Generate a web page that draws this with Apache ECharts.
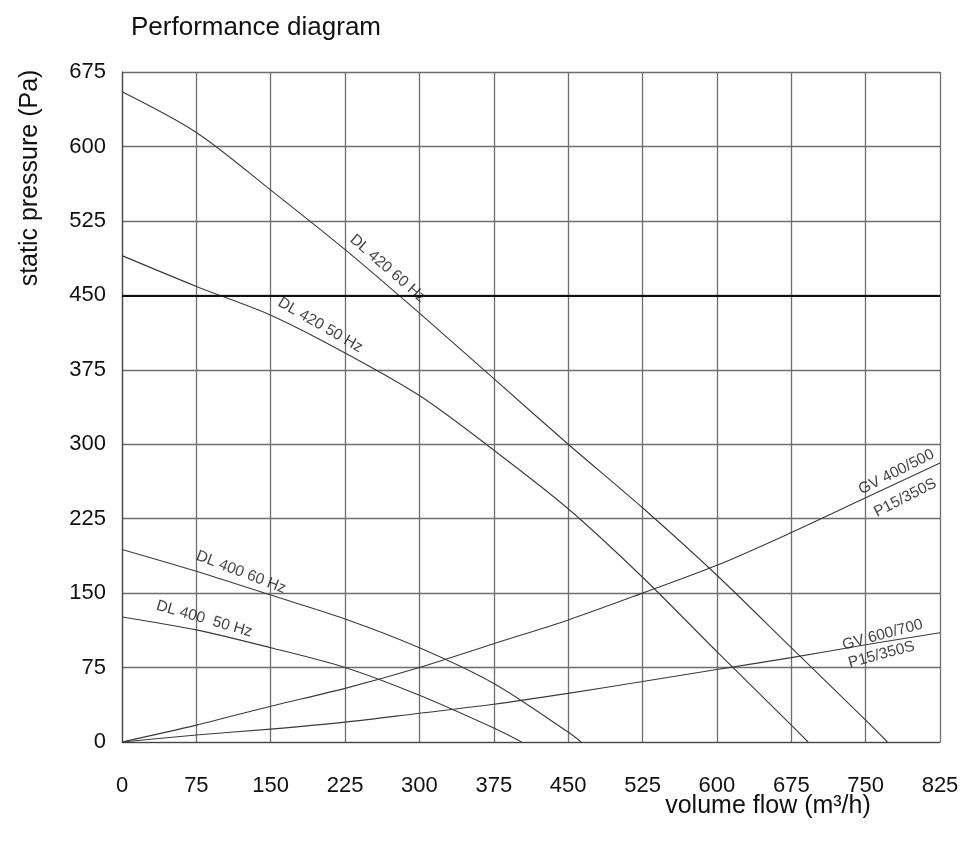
<!DOCTYPE html>
<html>
<head>
<meta charset="utf-8">
<script src="https://cdn.jsdelivr.net/npm/echarts@6/dist/echarts.min.js"></script>
<style>html,body{margin:0;padding:0;background:#fff}#c{width:963px;height:843px}</style>
</head>
<body>
<div id="c"></div>
<script>
// volume flow (m3/h) sample points and static pressure (Pa)
const dl420_60_x = [0, 75, 150, 225, 300, 375, 450, 525, 600, 675, 750, 772];
const dl420_60_y = [655, 614, 556, 496, 432, 366, 300, 236, 168, 95, 22, 0];
const dl420_50_x = [0, 75, 150, 225, 300, 375, 450, 525, 600, 675, 692];
const dl420_50_y = [490, 459, 430, 392, 349, 294, 235, 166, 91, 17, 0];
const dl400_60_x = [0, 75, 150, 225, 300, 375, 450, 463];
const dl400_60_y = [194, 172, 148, 124, 95, 59, 10, 0];
const dl400_50_x = [0, 75, 150, 225, 300, 375, 403];
const dl400_50_y = [126, 113, 95, 75, 47, 14, 0];
const gv400_x = [0, 75, 150, 225, 300, 375, 450, 525, 600, 675, 750, 825];
const gv400_y = [0, 17, 36, 54, 75, 99, 123, 150, 178, 211, 246, 281];
const gv600_x = [0, 75, 150, 225, 300, 375, 450, 525, 600, 675, 750, 825];
const gv600_y = [0, 7, 13, 20, 29, 38, 49, 61, 73, 85, 98, 110];
const xTicks = [0, 75, 150, 225, 300, 375, 450, 525, 600, 675, 750, 825];
const yTicks = [0, 75, 150, 225, 300, 375, 450, 525, 600, 675];
const limitLine = 450;
// curve labels: text, x, y (data coords), angle
const curveLabels = [
  ['DL 420 60 Hz', 268, 477, -41],
  ['DL 420 50 Hz', 200, 420, -30],
  ['DL 400 60 Hz', 120, 171, -21],
  ['DL 400  50 Hz', 83, 124, -16],
  ['GV 400/500', 781, 272, 27],
  ['P15/350S', 790, 246, 27],
  ['GV 600/700', 767, 108, 15],
  ['P15/350S', 766, 88, 15]
];

const zip = (xs, ys) => xs.map((x, i) => [x, ys[i]]);
const lineStyle = { color: '#3a3a3a', width: 1.1 };
const curves = [
  ['DL 420 60 Hz', dl420_60_x, dl420_60_y],
  ['DL 420 50 Hz', dl420_50_x, dl420_50_y],
  ['DL 400 60 Hz', dl400_60_x, dl400_60_y],
  ['DL 400 50 Hz', dl400_50_x, dl400_50_y],
  ['GV 400/500', gv400_x, gv400_y],
  ['GV 600/700', gv600_x, gv600_y]
];
const series = curves.map(([name, xs, ys]) => ({
  name, type: 'line', data: zip(xs, ys), smooth: 0.3,
  showSymbol: false, lineStyle, z: 3, silent: true
}));
series[0].markLine = {
  silent: true, symbol: 'none', label: { show: false },
  lineStyle: { color: '#111', width: 2, type: 'solid' },
  data: [{ yAxis: limitLine }]
};
const font = 'Liberation Sans, Arial, sans-serif';
series.push({
  name: 'labels', type: 'scatter', symbolSize: 0, silent: true, z: 5,
  data: curveLabels.map(l => ({ value: [l[1], l[2]], name: l[0],
    label: { show: true, formatter: l[0], rotate: l[3], position: 'inside',
      fontFamily: font, fontSize: 15.5, color: '#111' } }))
});

const chart = echarts.init(document.getElementById('c'), null, { renderer: 'canvas' });
chart.setOption({
  animation: false,
  backgroundColor: '#fff',
  title: { text: 'Performance diagram', left: 126, top: 10,
    textStyle: { fontFamily: font, fontSize: 26, fontWeight: 'normal', color: '#111' } },
  grid: { left: 122, right: 23, top: 72, bottom: 101 },
  xAxis: {
    type: 'value', min: 0, max: 825, interval: 75,
    axisLine: { show: true, lineStyle: { color: '#444', width: 1.2 } },
    axisTick: { show: false },
    splitLine: { show: true, lineStyle: { color: '#6e6e6e', width: 1.3 } },
    axisLabel: { margin: 33, fontFamily: font, fontSize: 22, color: '#111',
      formatter: v => xTicks.includes(v) ? String(v) : '' }
  },
  yAxis: {
    type: 'value', min: 0, max: 675, interval: 75,
    axisLine: { show: true, lineStyle: { color: '#444', width: 1.2 } },
    axisTick: { show: false },
    splitLine: { show: true, lineStyle: { color: '#6e6e6e', width: 1.3 } },
    axisLabel: { margin: 16, fontFamily: font, fontSize: 22, color: '#111',
      formatter: v => yTicks.includes(v) ? String(v) : '' }
  },
  graphic: [
    { type: 'text', x: 30, y: 178, rotation: Math.PI / 2,
      style: { text: 'static pressure (Pa)', fontFamily: font, fontSize: 25, fill: '#111',
        textAlign: 'center', textVerticalAlign: 'middle' } },
    { type: 'text', x: 768, y: 806,
      style: { text: 'volume flow (m³/h)', fontFamily: font, fontSize: 25, fill: '#111',
        textAlign: 'center', textVerticalAlign: 'middle' } }
  ],
  series
});
</script>
</body>
</html>
